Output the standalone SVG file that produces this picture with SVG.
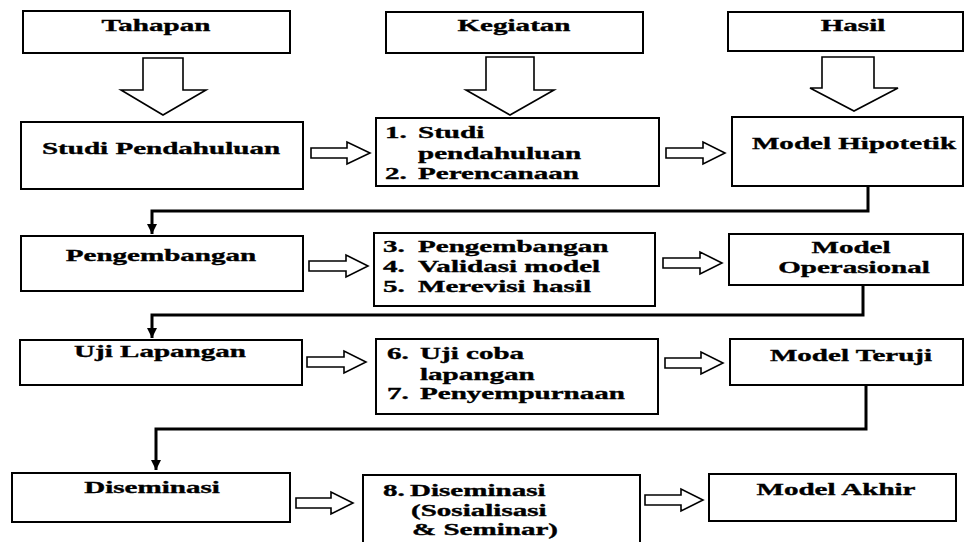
<svg xmlns="http://www.w3.org/2000/svg" width="966" height="542" viewBox="0 0 966 542">
<defs>
<style>
.box{fill:#fff;stroke:#000;stroke-width:2}
.blk{fill:#fff;stroke:#000;stroke-width:1.6;stroke-linejoin:miter}
.t{font-family:"Liberation Serif","Times New Roman",serif;font-weight:bold;font-size:17px;fill:#000;stroke:#000;stroke-width:0.35}
.c{text-anchor:middle}
.con{fill:none;stroke:#000;stroke-width:3;stroke-linejoin:miter}
</style>
<marker id="ah" markerUnits="userSpaceOnUse" markerWidth="10" markerHeight="10" refX="10" refY="5" orient="auto">
<path d="M0,0 L10,5 L0,10 z" fill="#000"/>
</marker>
</defs>
<rect width="966" height="542" fill="#fff"/>

<!-- Header row -->
<g id="h-tahapan">
<rect class="box" x="23" y="11" width="267" height="42"/>
<text class="t c" transform="matrix(1.71 0 0 1 156 31)">Tahapan</text>
</g>
<g id="h-kegiatan">
<rect class="box" x="386" y="12" width="257" height="41"/>
<text class="t c" transform="matrix(1.71 0 0 1 514 31)">Kegiatan</text>
</g>
<g id="h-hasil">
<rect class="box" x="728" y="12" width="235" height="39"/>
<text class="t c" transform="matrix(1.71 0 0 1 853 31)">Hasil</text>
</g>

<!-- Row 1 -->
<g id="studi-pendahuluan">
<rect class="box" x="21" y="122" width="282" height="67"/>
<text class="t c" transform="matrix(1.71 0 0 1 161 154)">Studi Pendahuluan</text>
</g>
<g id="kegiatan-1">
<rect class="box" x="376" y="118" width="283" height="68"/>
<text class="t" transform="matrix(1.71 0 0 1 385 138)"><tspan x="0">1.</tspan><tspan x="19.3">Studi</tspan></text>
<text class="t" transform="matrix(1.71 0 0 1 418 159)">pendahuluan</text>
<text class="t" transform="matrix(1.71 0 0 1 385 179)"><tspan x="0">2.</tspan><tspan x="19.3">Perencanaan</tspan></text>
</g>
<g id="model-hipotetik">
<rect class="box" x="732" y="117" width="231" height="69"/>
<text class="t c" transform="matrix(1.71 0 0 1 854 149)">Model Hipotetik</text>
</g>

<!-- Row 2 -->
<g id="pengembangan">
<rect class="box" x="21" y="236" width="282" height="55"/>
<text class="t c" transform="matrix(1.71 0 0 1 161 261)">Pengembangan</text>
</g>
<g id="kegiatan-2">
<rect class="box" x="374" y="233" width="281" height="73"/>
<text class="t" transform="matrix(1.71 0 0 1 383 252)"><tspan x="0">3.</tspan><tspan x="20.5">Pengembangan</tspan></text>
<text class="t" transform="matrix(1.71 0 0 1 383 272)"><tspan x="0">4.</tspan><tspan x="20.5">Validasi model</tspan></text>
<text class="t" transform="matrix(1.71 0 0 1 383 292)"><tspan x="0">5.</tspan><tspan x="20.5">Merevisi hasil</tspan></text>
</g>
<g id="model-operasional">
<rect class="box" x="729" y="234" width="234" height="51"/>
<text class="t c" transform="matrix(1.71 0 0 1 851 253)">Model</text>
<text class="t c" transform="matrix(1.71 0 0 1 854 273)">Operasional</text>
</g>

<!-- Row 3 -->
<g id="uji-lapangan">
<rect class="box" x="20" y="340" width="282" height="45"/>
<text class="t c" transform="matrix(1.71 0 0 1 160 357)">Uji Lapangan</text>
</g>
<g id="kegiatan-3">
<rect class="box" x="376" y="339" width="282" height="75"/>
<text class="t" transform="matrix(1.71 0 0 1 387 359)"><tspan x="0">6.</tspan><tspan x="19.3">Uji coba</tspan></text>
<text class="t" transform="matrix(1.71 0 0 1 420 380)">lapangan</text>
<text class="t" transform="matrix(1.71 0 0 1 387 399)"><tspan x="0">7.</tspan><tspan x="19.3">Penyempurnaan</tspan></text>
</g>
<g id="model-teruji">
<rect class="box" x="730" y="339" width="233" height="46"/>
<text class="t c" transform="matrix(1.71 0 0 1 851 361)">Model Teruji</text>
</g>

<!-- Row 4 -->
<g id="diseminasi">
<rect class="box" x="12" y="473" width="278" height="49"/>
<text class="t c" transform="matrix(1.71 0 0 1 152 493)">Diseminasi</text>
</g>
<g id="kegiatan-4">
<rect class="box" x="363" y="475" width="277" height="75"/>
<text class="t" transform="matrix(1.71 0 0 1 383 496)"><tspan x="0">8.</tspan><tspan x="15.8">Diseminasi</tspan></text>
<text class="t" transform="matrix(1.71 0 0 1 411 516)">(Sosialisasi</text>
<text class="t" transform="matrix(1.71 0 0 1 412 535)">&amp; Seminar)</text>
</g>
<g id="model-akhir">
<rect class="box" x="709" y="474" width="247" height="47"/>
<text class="t c" transform="matrix(1.71 0 0 1 836 495)">Model Akhir</text>
</g>

<!-- Connectors -->
<g id="connectors">
<!-- header block arrows -->
<polygon class="blk" points="143,58 183,58 183,90 206,90 163,115 121,90 143,90"/>
<polygon class="blk" points="486,57 534,57 534,90 554,90 510,115 466,90 486,90"/>
<polygon class="blk" points="822,57 874,57 874,88 898,88 854,111 810,88 822,88"/>
<!-- right block arrows -->
<polygon class="blk" points="311,148 347,148 347,142 370,153 347,164 347,158 311,158"/>
<polygon class="blk" points="666,148 703,148 703,142 725,153 703,164 703,158 666,158"/>
<polygon class="blk" points="309,261 346,261 346,255 368,266 346,277 346,271 309,271"/>
<polygon class="blk" points="663,258 700,258 700,252 722,263 700,274 700,268 663,268"/>
<polygon class="blk" points="307,357 344,357 344,351 366,362 344,373 344,367 307,367"/>
<polygon class="blk" points="665,358 701,358 701,352 723,363 701,374 701,368 665,368"/>
<polygon class="blk" points="296,498 331,498 331,492 353,503 331,514 331,508 296,508"/>
<polygon class="blk" points="645,495 681,495 681,489 703,500 681,511 681,505 645,505"/>
<!-- flow connectors -->
<path class="con" d="M868,186 V211 H152 V234" marker-end="url(#ah)"/>
<path class="con" d="M863,285 V315 H152 V338" marker-end="url(#ah)"/>
<path class="con" d="M866,385 V429 H156 V470" marker-end="url(#ah)"/>
</g>
</svg>
